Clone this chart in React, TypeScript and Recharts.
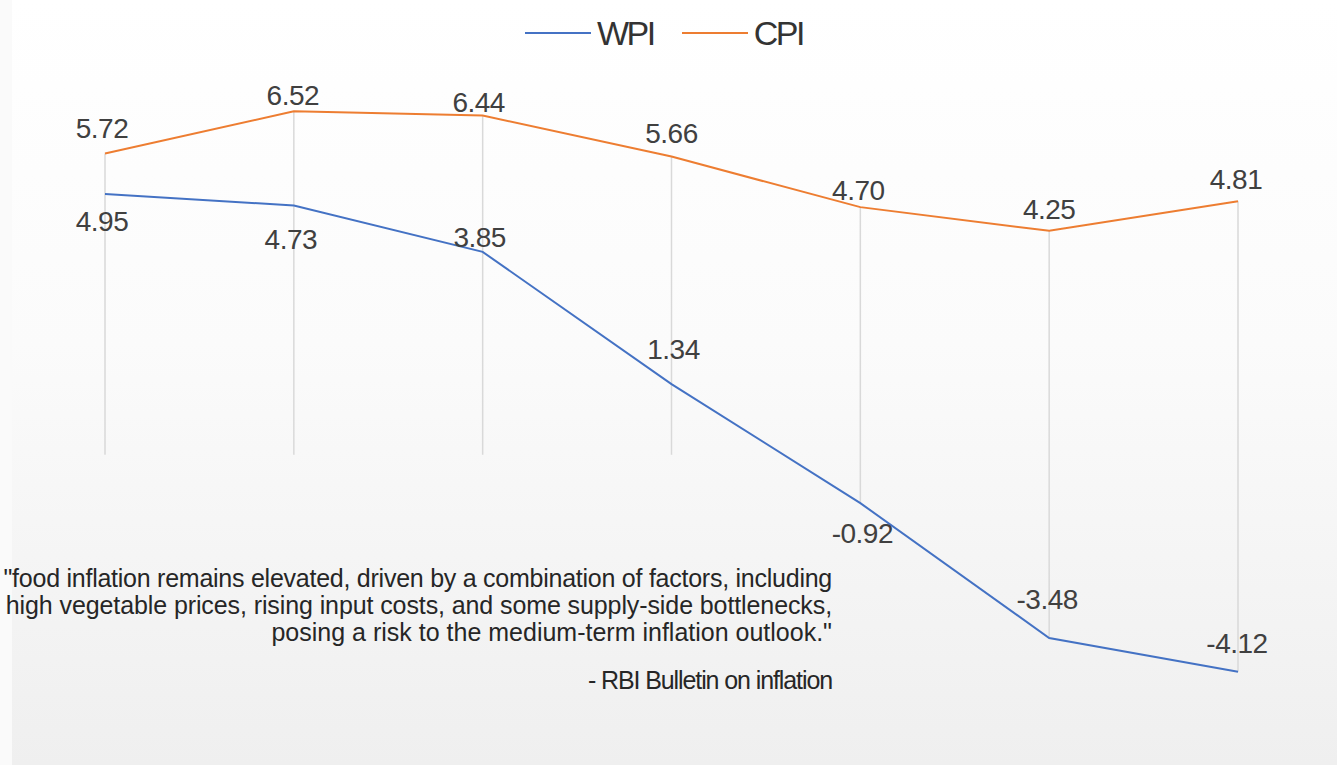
import { LineChart, Line, XAxis, YAxis, ReferenceLine, LabelList, Legend } from 'recharts'

const points = ['1', '2', '3', '4', '5', '6', '7']
const wpi = [4.95, 4.73, 3.85, 1.34, -0.92, -3.48, -4.12]
const cpi = [5.72, 6.52, 6.44, 5.66, 4.7, 4.25, 4.81]

// label nudges (px) relative to each point, as placed in the original
const cpiLabelDx = [-3, -1, -4, 0, -2, 0, -2]
const cpiLabelDy = [-15, -6, -3, -14, -7, -12, -12]
const wpiLabelDx = [-3, -3, -3, 2, 2, -2, -1]
const wpiLabelDy = [37, 43, -5, -25, 40, -29, -19]

const data = points.map((p, i) => ({ point: p, wpi: wpi[i], cpi: cpi[i] }))

const FONT = "'Liberation Sans', Arial, sans-serif"
const WPI_COLOR = '#4472C4'
const CPI_COLOR = '#ED7D31'

function makeLabel(dxs: number[], dys: number[]) {
  return (props: any) => {
    const { x, y, value, index } = props
    return (
      <text
        x={Number(x) + dxs[index]}
        y={Number(y) + dys[index]}
        textAnchor="middle"
        fill="#404040"
        fontSize={28}
        fontFamily={FONT}
        style={{ letterSpacing: -0.5 }}
      >
        {Number(value).toFixed(2)}
      </text>
    )
  }
}

function LegendContent() {
  const items = [
    { name: 'WPI', color: WPI_COLOR },
    { name: 'CPI', color: CPI_COLOR },
  ]
  return (
    <div style={{ display: 'flex', alignItems: 'center', fontFamily: FONT }}>
      {items.map((it, i) => (
        <div key={it.name} style={{ display: 'flex', alignItems: 'center', marginLeft: i ? 28 : 0 }}>
          <div style={{ width: 66, height: 2, background: it.color, marginRight: 6 }} />
          <span style={{ fontSize: 34, letterSpacing: -2.5, color: '#333', lineHeight: '40px' }}>{it.name}</span>
        </div>
      ))}
    </div>
  )
}

export default function App() {
  return (
    <div style={{ position: 'absolute', left: 0, top: 0, width: 1337, height: 765, background: '#fafafa', overflow: 'hidden' }}>
      <div
        style={{
          position: 'absolute',
          left: 12,
          top: 0,
          right: 0,
          bottom: 0,
          background: 'linear-gradient(#ffffff 0%, #fbfbfb 45%, #efefef 100%)',
        }}
      />
      <div style={{ position: 'absolute', left: 0, top: 0 }}>
        <LineChart width={1337} height={765} data={data} margin={{ top: 86, right: 99, bottom: 47, left: 105 }}>
          <XAxis dataKey="point" hide />
          <YAxis type="number" domain={[-5, 7]} hide />
          {data.map((d) => (
            <ReferenceLine
              key={d.point}
              segment={[
                { x: d.point, y: Math.max(0, d.cpi, d.wpi) },
                { x: d.point, y: Math.min(0, d.cpi, d.wpi) },
              ]}
              stroke="#d9d9d9"
              strokeWidth={1.5}
            />
          ))}
          <Legend
            verticalAlign="middle"
            align="center"
            content={<LegendContent />}
            wrapperStyle={{ top: 13, left: 525, width: 320 }}
          />
          <Line
            dataKey="wpi"
            name="WPI"
            stroke={WPI_COLOR}
            strokeWidth={2}
            dot={false}
            isAnimationActive={false}
          >
            <LabelList dataKey="wpi" content={makeLabel(wpiLabelDx, wpiLabelDy)} />
          </Line>
          <Line
            dataKey="cpi"
            name="CPI"
            stroke={CPI_COLOR}
            strokeWidth={2}
            dot={false}
            isAnimationActive={false}
          >
            <LabelList dataKey="cpi" content={makeLabel(cpiLabelDx, cpiLabelDy)} />
          </Line>
        </LineChart>
      </div>
      <div
        style={{
          position: 'absolute',
          right: 1337 - 832,
          top: 565,
          textAlign: 'right',
          fontFamily: FONT,
          fontSize: 25,
          lineHeight: '27px',
          color: '#262626',
          whiteSpace: 'nowrap',
        }}
      >
        <div style={{ letterSpacing: -0.25 }}>"food inflation remains elevated, driven by a combination of factors, including</div>
        <div style={{ letterSpacing: -0.1 }}>high vegetable prices, rising input costs, and some supply-side bottlenecks,</div>
        <div style={{ letterSpacing: 0 }}>posing a risk to the medium-term inflation outlook."</div>
        <div style={{ marginTop: 21, letterSpacing: -1.1 }}>- RBI Bulletin on inflation</div>
      </div>
    </div>
  )
}
